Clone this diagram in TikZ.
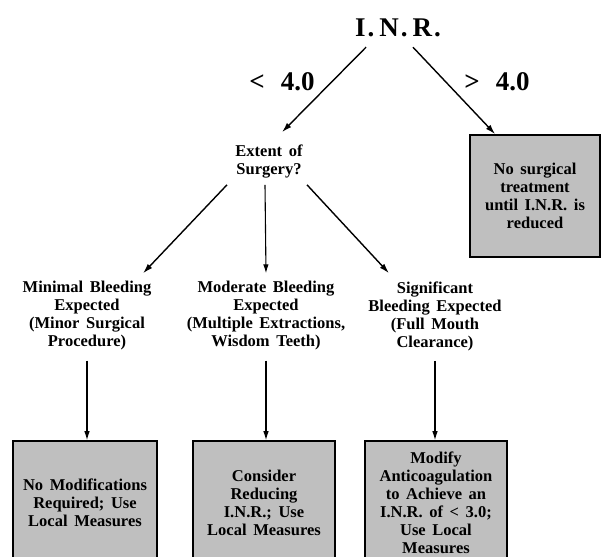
\documentclass[tikz,border=0pt]{standalone}
\usepackage{fontspec}
\setmainfont{Liberation Serif}
\newfontfamily\bodyfont[WordSpace=1.6]{Liberation Serif}
\usetikzlibrary{arrows.meta}
\begin{document}
\begin{tikzpicture}[x=1pt,y=-1pt,
  every node/.style={inner sep=0pt, align=center},
  lbl/.style={font=\bodyfont\fontsize{16.5}{18}\selectfont\bfseries},
  big/.style={font=\fontsize{27}{30}\selectfont\bfseries},
  box/.style={draw=black, line width=1.6pt, fill=black!25, lbl},
  arr/.style={line width=1.4pt, -{Latex[length=10pt,width=6pt]}},
  varr/.style={line width=1.1pt, -{Latex[length=9pt,width=5.5pt]}}]
\useasboundingbox (0,0) rectangle (603,557);
% nodes
\node[big] (inr) at (398,28) {I\kern2pt.\kern5pt N\kern2pt.\kern5pt R\kern2pt.};
\node[big] (lt) at (282,82) {<\kern16pt 4.0};
\node[big] (gt) at (497,82) {>\kern16pt 4.0};
\node[lbl] (extent) at (269,162) {Extent of\\Surgery?};
\node[box, minimum width=130pt, minimum height=122pt] (rbox) at (535,196)
  {No surgical\\treatment\\until I.N.R. is\\reduced};
\node[lbl] (minimal) at (87,316) {Minimal Bleeding\\Expected\\(Minor Surgical\\Procedure)};
\node[lbl] (moderate) at (266,316) {Moderate Bleeding\\Expected\\(Multiple Extractions,\\Wisdom Teeth)};
\node[lbl] (signif) at (435,316) {Significant\\Bleeding Expected\\(Full Mouth\\Clearance)};
\node[box, minimum width=144pt, minimum height=124pt] (box1) at (85,503)
  {No Modifications\\Required; Use\\Local Measures};
\node[box, minimum width=142pt, minimum height=124pt] (box2) at (264,503)
  {Consider\\Reducing\\I.N.R.; Use\\Local Measures};
\node[box, minimum width=142pt, minimum height=124pt] (box3) at (436,503)
  {Modify\\Anticoagulation\\to Achieve an\\I.N.R. of < 3.0;\\Use Local\\Measures};
% connectors
\draw[arr] ([xshift=-32pt,yshift=-10pt]inr.south) -- ([xshift=13pt,yshift=13pt]extent.north);
\draw[arr] ([xshift=15pt,yshift=-10pt]inr.south) -- ([xshift=26pt]rbox.north west);
\draw[arr] ([xshift=-42pt,yshift=-6pt]extent.south) -- ([xshift=56pt,yshift=8pt]minimal.north);
\draw[varr] ([xshift=-4pt,yshift=-6pt]extent.south) -- ([yshift=8pt]moderate.north);
\draw[arr] ([xshift=38pt,yshift=-6pt]extent.south) -- ([xshift=-46pt,yshift=8pt]signif.north);
\draw[varr] ([yshift=-10pt]minimal.south) -- (minimal.south |- box1.north);
\draw[varr] ([yshift=-10pt]moderate.south) -- (moderate.south |- box2.north);
\draw[varr] ([yshift=-10pt]signif.south) -- (signif.south |- box3.north);
\end{tikzpicture}
\end{document}
